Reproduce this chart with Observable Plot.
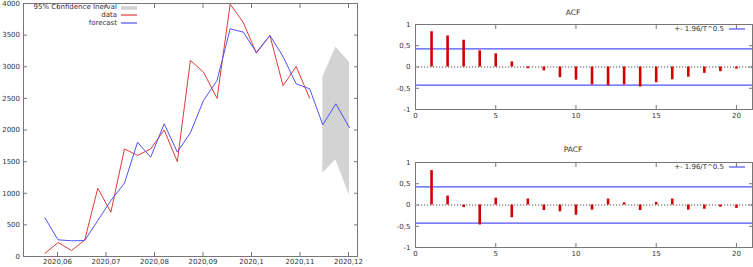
<!DOCTYPE html>
<html><head><meta charset="utf-8">
<script src="https://cdn.jsdelivr.net/npm/d3@7"></script>
<script src="https://cdn.jsdelivr.net/npm/@observablehq/plot@0.6"></script>
<style>
body{margin:0;background:#fff;}
#wrap{position:relative;width:753px;height:267px;overflow:hidden;font-family:"DejaVu Sans",sans-serif;color:#333;}
.pane{position:absolute;}
.lg{position:absolute;font-size:7px;white-space:nowrap;line-height:8px;height:8px;}
.ttl{position:absolute;font-size:7.5px;white-space:nowrap;line-height:9px;width:100px;text-align:center;}
.sw{position:absolute;overflow:visible;}
</style></head><body><div id="wrap"></div>
<script>
// ---- forecast chart data ----
const periods = [2020.0574, 2020.0601, 2020.0629, 2020.0656, 2020.0683, 2020.0710, 2020.0738, 2020.0765,
  2020.0792, 2020.0820, 2020.0847, 2020.0874, 2020.0901, 2020.0929, 2020.0956, 2020.0983,
  2020.1010, 2020.1038, 2020.1065, 2020.1092, 2020.1120, 2020.1147, 2020.1174, 2020.1202];
const dataValues = [50, 220, 95, 260, 1080, 700, 1700, 1600, 1700, 2000, 1500, 3100, 2915, 2500, 3990, 3700, 3215, 3494, 2700, 3004, 2503];
const forecastValues = [612, 264, 248, 253, 569, 885, 1160, 1807, 1570, 2098, 1650, 1956, 2466, 2783, 3600, 3547, 3230, 3494, 3162, 2730, 2651, 2082, 2414, 2035];
const bandStart = 21;
const bandLower = [1317, 1528, 964];
const bandUpper = [2835, 3310, 3072];
const xTickValues = [2020.06, 2020.07, 2020.08, 2020.09, 2020.10, 2020.11, 2020.12];
const xTickLabels = ["2020,06", "2020,07", "2020,08", "2020,09", "2020,1", "2020,11", "2020,12"];
const yTickValues = [0, 500, 1000, 1500, 2000, 2500, 3000, 3500, 4000];
const yTickLabels = ["0", "500", "1000", "1500", "2000", "2500", "3000", "3500", "4000"];

// ---- correlogram data ----
const lags = [1,2,3,4,5,6,7,8,9,10,11,12,13,14,15,16,17,18,19,20];
const acfValues = [0.83, 0.73, 0.63, 0.38, 0.31, 0.12, -0.04, -0.09, -0.25, -0.31, -0.42, -0.44, -0.42, -0.47, -0.37, -0.30, -0.24, -0.15, -0.11, -0.05];
const pacfValues = [0.81, 0.21, -0.06, -0.47, 0.16, -0.30, 0.14, -0.13, -0.16, -0.24, -0.12, 0.14, 0.05, -0.13, 0.06, 0.14, -0.12, -0.10, -0.05, -0.08];
const confBound = 0.428;
const lagTicks = [0, 5, 10, 15, 20];
const corrTicks = [-1, -0.5, 0, 0.5, 1];
const corrTickLabels = ["-1", "-0,5", "0", "0,5", "1"];

const RED = "#e03c3c", BLUE = "#5252f5", BAR = "#d40000", GRAY = "#d3d3d3", FRAME = "#777";
const style = {fontFamily: "DejaVu Sans, sans-serif", fontSize: "7px", color: "#333", background: "#fff", overflow: "visible"};

function borderTicks(xt, yt) {
  return [
    Plot.axisX(xt, {anchor: "bottom", tickSize: -4, fill: "none", stroke: FRAME, label: null}),
    Plot.axisX(xt, {anchor: "top", tickSize: -4, fill: "none", stroke: FRAME, label: null}),
    Plot.axisY(yt, {anchor: "left", tickSize: -4, fill: "none", stroke: FRAME, label: null}),
    Plot.axisY(yt, {anchor: "right", tickSize: -4, fill: "none", stroke: FRAME, label: null})
  ];
}
function labelFor(vals, labs) { return d => labs[vals.findIndex(v => Math.abs(v - d) < 1e-9)]; }

const dataRows = dataValues.map((v, i) => ({t: periods[i], v}));
const fcRows = forecastValues.map((v, i) => ({t: periods[i], v}));
const bandRows = bandLower.map((lo, i) => ({t: periods[bandStart + i], lo, hi: bandUpper[i]}));

const wrap = document.getElementById("wrap");
function place(el, left, top) { el.classList.add("pane"); el.style.left = left + "px"; el.style.top = top + "px"; wrap.appendChild(el); }

const main = Plot.plot({
  width: 360, height: 267, marginLeft: 23, marginRight: 3, marginTop: 3, marginBottom: 11,
  style,
  x: {domain: [2020.05298, 2020.12186]},
  y: {domain: [0, 4000]},
  marks: [
    Plot.areaY(bandRows, {x: "t", y1: "lo", y2: "hi", fill: GRAY}),
    Plot.line(dataRows, {x: "t", y: "v", stroke: RED, strokeWidth: 1}),
    Plot.line(fcRows, {x: "t", y: "v", stroke: BLUE, strokeWidth: 1}),
    ...borderTicks(xTickValues, yTickValues),
    Plot.axisX(xTickValues, {anchor: "bottom", tickSize: 0, tickPadding: 3, label: null, tickFormat: labelFor(xTickValues, xTickLabels)}),
    Plot.axisY(yTickValues, {anchor: "left", tickSize: 0, tickPadding: 3.5, label: null, tickFormat: labelFor(yTickValues, yTickLabels)}),
    Plot.frame({stroke: FRAME})
  ]
});
place(main, 0, 0);

function corrPlot(values, height, marginTop) {
  const rows = values.map((v, i) => ({lag: lags[i], v}));
  return Plot.plot({
    width: 383, height, marginLeft: 45, marginRight: 1, marginTop, marginBottom: height - marginTop - 85,
    style,
    x: {domain: [0, 21]},
    y: {domain: [-1, 1]},
    marks: [
      Plot.ruleY([0], {stroke: "#222", strokeDasharray: "1.2,1.8", strokeWidth: 0.8}),
      Plot.ruleY([confBound, -confBound], {stroke: BLUE, strokeWidth: 1.2}),
      Plot.ruleX(rows, {x: "lag", y1: 0, y2: "v", stroke: BAR, strokeWidth: 2.6}),
      ...borderTicks(lagTicks, corrTicks),
      Plot.axisX(lagTicks, {anchor: "bottom", tickSize: 0, tickPadding: 4, label: null}),
      Plot.axisY(corrTicks, {anchor: "left", tickSize: 0, tickPadding: 5, label: null, tickFormat: labelFor(corrTicks, corrTickLabels)}),
      Plot.frame({stroke: FRAME})
    ]
  });
}
place(corrPlot(acfValues, 130, 24), 370, 0);
place(corrPlot(pacfValues, 137, 32), 370, 130);

function html(cls, text, css) {
  const d = document.createElement("div"); d.className = cls; if (text) d.textContent = text;
  Object.assign(d.style, css); wrap.appendChild(d); return d;
}
const NS = "http://www.w3.org/2000/svg";
function swatch(left, top, kind, color) {
  const s = document.createElementNS(NS, "svg");
  s.setAttribute("class", "sw"); s.setAttribute("width", 16); s.setAttribute("height", 4);
  s.style.left = left + "px"; s.style.top = (top - 2) + "px";
  if (kind === "rect") {
    const r = document.createElementNS(NS, "rect");
    r.setAttribute("x", 0); r.setAttribute("y", 0.2); r.setAttribute("width", 16); r.setAttribute("height", 3.6); r.setAttribute("fill", color);
    s.appendChild(r);
  } else {
    const l = document.createElementNS(NS, "line");
    l.setAttribute("x1", 0); l.setAttribute("x2", 16); l.setAttribute("y1", 2); l.setAttribute("y2", 2);
    l.setAttribute("stroke", color); l.setAttribute("stroke-width", 1.2);
    s.appendChild(l);
  }
  wrap.appendChild(s);
}
// left legend
html("lg", "95% Confidence Inerval", {left: "0px", width: "117px", textAlign: "right", top: "3.3px"});
html("lg", "data", {left: "0px", width: "117px", textAlign: "right", top: "11.3px"});
html("lg", "forecast", {left: "0px", width: "117px", textAlign: "right", top: "19.3px"});
swatch(121, 7.6, "rect", GRAY);
swatch(121, 15.3, "line", RED);
swatch(121, 23.3, "line", BLUE);
// correlogram titles & legends
html("ttl", "ACF", {left: "523px", top: "8px"});
html("ttl", "PACF", {left: "523px", top: "144.8px"});
for (const cy of [29.3, 166.7]) {
  html("lg", "+- 1.96/T^0.5", {left: "600px", width: "124px", textAlign: "right", top: (cy - 4) + "px"});
  swatch(729, cy, "line", BLUE);
}
</script></body></html>
